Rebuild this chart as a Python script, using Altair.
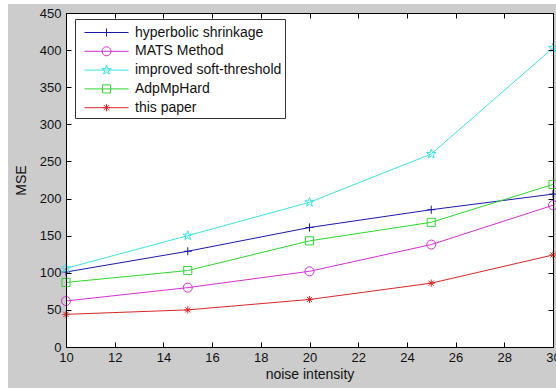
import math
import altair as alt
import pandas as pd

# ---------------- data ----------------
noise = [10, 15, 20, 25, 30]
series_names = ["hyperbolic shrinkage", "MATS Method", "improved soft-threshold", "AdpMpHard", "this paper"]
hyperbolic = [101, 129, 161, 185, 206]
mats = [62, 80, 102, 138, 191]
improved = [106, 150, 195, 260, 403]
adpmphard = [87, 103, 143, 168, 219]
this_paper = [44, 50, 64, 86, 124]
x_ticks = list(range(10, 31, 2))
y_ticks = list(range(0, 451, 50))

values = [hyperbolic, mats, improved, adpmphard, this_paper]
df = pd.DataFrame(
    [{"series": s, "noise": x, "mse": v} for s, vals in zip(series_names, values) for x, v in zip(noise, vals)]
)

# ---------------- styles ----------------
colors = ["#1a1aa8", "#d22fd2", "#3ae2e2", "#2ed62e", "#d92626"]
FONT = "Liberation Sans"
W, H = 487, 334


def segs_path(segs, s, closed=False):
    out = []
    for seg in segs:
        out.append("M" + "L".join(f"{x * s:.3f},{y * s:.3f}" for x, y in seg) + ("Z" if closed else ""))
    return "".join(out)


def star_pts():
    pts = []
    for k in range(5):
        a = math.radians(-90 + 72 * k)
        pts.append((math.cos(a), math.sin(a)))
        b = math.radians(-90 + 36 + 72 * k)
        pts.append((0.382 * math.cos(b), 0.382 * math.sin(b)))
    return pts


def marker(kind, s):
    if kind == "plus":
        return segs_path([[(-1, 0), (1, 0)], [(0, -1), (0, 1)]], s)
    if kind == "circle":
        r = s
        return f"M{r:.3f},0A{r:.3f},{r:.3f},0,1,1,{-r:.3f},0A{r:.3f},{r:.3f},0,1,1,{r:.3f},0Z"
    if kind == "star":
        return segs_path([star_pts()], s, closed=True)
    if kind == "square":
        return segs_path([[(-1, -1), (1, -1), (1, 1), (-1, 1)]], s, closed=True)
    d = 0.72
    return segs_path([[(-1, 0), (1, 0)], [(0, -1), (0, 1)], [(-d, -d), (d, d)], [(-d, d), (d, -d)]], s)


kinds = ["plus", "circle", "star", "square", "asterisk"]
rel = [0.9, 1.0, 1.1, 0.9, 0.8]
MARK_SIZE = 81          # unit -> 4.5 px
LEG_S = 20              # legend symbol unit -> 10 px
LEG_SIZE = LEG_S * LEG_S
half_line = 22.0 / (LEG_S / 2)
data_paths = [marker(k, r) for k, r in zip(kinds, rel)]
legend_paths = [f"M{-half_line:.3f},0L{half_line:.3f},0" + marker(k, r * 4.5 / (LEG_S / 2))
                for k, r in zip(kinds, rel)]

x_scale = alt.Scale(domain=[10, 30], nice=False, zero=False)
y_scale = alt.Scale(domain=[0, 450], nice=False, zero=False)

ax_common = dict(zindex=1, grid=False, domainColor="#000000", tickColor="#000000",
                 domainWidth=1, tickWidth=1, labelFont=FONT, labelFontSize=13, labelColor="#111111",
                 titleFont=FONT, titleFontSize=14, titleFontWeight="normal", titleColor="#111111",
                 labelOverlap=False, labelFlush=False)

x_main = alt.Axis(values=x_ticks, orient="bottom", ticks=False, domain=True, labelPadding=4,
                  title="noise intensity", titlePadding=3, **ax_common)
y_main = alt.Axis(values=y_ticks, orient="left", ticks=False, domain=True, labelPadding=5,
                  title="MSE", titlePadding=11, **ax_common)
x_in_bottom = alt.Axis(values=x_ticks, orient="top", offset=-H, labels=False, domain=False,
                       ticks=True, tickSize=5, title=None, **ax_common)
x_top = alt.Axis(values=x_ticks, orient="bottom", offset=-H, labels=False, domain=True,
                 ticks=True, tickSize=5, title=None, **ax_common)
y_in_left = alt.Axis(values=y_ticks, orient="right", offset=-W, labels=False, domain=False,
                     ticks=True, tickSize=5, title=None, **ax_common)
y_right = alt.Axis(values=y_ticks, orient="left", offset=-W, labels=False, domain=True,
                   ticks=True, tickSize=5, title=None, **ax_common)

legend_def = alt.Legend(title=None, orient="none", legendX=9, legendY=6, fillColor="white",
                        strokeColor="#333333", padding=3, symbolSize=LEG_SIZE, symbolStrokeWidth=1,
                        labelFont=FONT, labelFontSize=14, labelColor="#111111", labelOffset=18,
                        rowPadding=0.8, symbolOffset=18, labelLimit=400,
                        labelExpr="datum.label + '  '")

color_scale = alt.Scale(domain=series_names, range=colors)


def color_enc(legend=alt.Undefined):
    return alt.Color("series:N", scale=color_scale, sort=series_names, legend=legend)


one = pd.DataFrame({"a": [0]})
grey = alt.Chart(one).mark_rect(color="#cccccc").encode(
    x=alt.value(-58), x2=alt.value(W + 3), y=alt.value(-9), y2=alt.value(H + 41))
white = alt.Chart(one).mark_rect(color="white").encode(
    x=alt.value(0), x2=alt.value(W), y=alt.value(0), y2=alt.value(H))

legend_layer = alt.Chart(df).transform_filter("false").mark_point(
    filled=False, opacity=1, strokeWidth=1).encode(
    x=alt.X("noise:Q", scale=x_scale, axis=None),
    y=alt.Y("mse:Q", scale=y_scale, axis=None),
    color=color_enc(legend_def),
    shape=alt.Shape("series:N", scale=alt.Scale(domain=series_names, range=legend_paths),
                    sort=series_names, legend=legend_def),
)

lines = alt.Chart(df).mark_line(strokeWidth=1).encode(
    x=alt.X("noise:Q", scale=x_scale, axis=x_main),
    y=alt.Y("mse:Q", scale=y_scale, axis=y_main),
    color=color_enc(),
    detail="series:N",
)

axes_for_points = [(x_in_bottom, y_in_left), (x_top, y_right)]
point_layers = []
for i, (name, path) in enumerate(zip(series_names, data_paths)):
    xa, ya = axes_for_points[i] if i < len(axes_for_points) else (None, None)
    point_layers.append(
        alt.Chart(df).transform_filter(alt.datum.series == name).mark_point(
            shape=path, size=MARK_SIZE, filled=False, opacity=1, strokeWidth=1).encode(
            x=alt.X("noise:Q", scale=x_scale, axis=xa),
            y=alt.Y("mse:Q", scale=y_scale, axis=ya),
            color=color_enc(),
        )
    )

chart = alt.layer(grey, white, legend_layer, lines, *point_layers).resolve_axis(
    x="independent", y="independent"
).properties(
    width=W, height=H,
    padding={"left": 66, "top": 13, "right": 3, "bottom": 42},
    autosize=alt.AutoSizeParams(type="none"),
).configure(background="white", font=FONT).configure_view(stroke=None)

chart.save("out.html", embed_options={"renderer": "svg", "actions": False})
